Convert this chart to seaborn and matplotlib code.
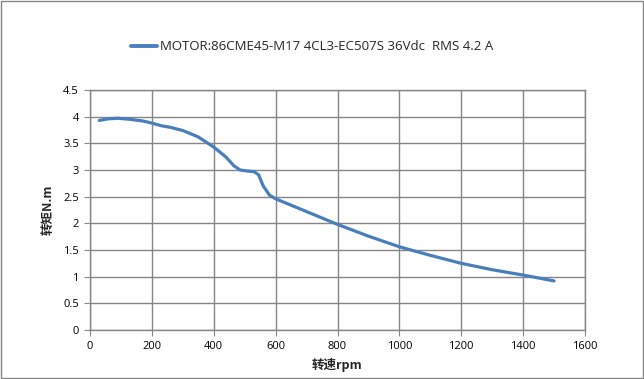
import pandas as pd
import seaborn as sns
import matplotlib.pyplot as plt

# speed (rpm) vs torque (N.m)
speed = [30, 60, 90, 130, 170, 200, 230, 260, 300, 350, 400, 440, 465, 485,
         510, 530, 545, 560, 580, 600, 650, 700, 800, 900, 1000, 1100, 1200,
         1300, 1400, 1500]
torque = [3.93, 3.96, 3.97, 3.95, 3.92, 3.88, 3.83, 3.80, 3.74, 3.62, 3.43,
          3.24, 3.08, 3.00, 2.98, 2.97, 2.91, 2.70, 2.53, 2.46, 2.34, 2.22,
          1.98, 1.76, 1.56, 1.40, 1.25, 1.13, 1.03, 0.92]
series_name = "MOTOR:86CME45-M17 4CL3-EC507S 36Vdc  RMS 4.2 A"
x_ticks = [0, 200, 400, 600, 800, 1000, 1200, 1400, 1600]
y_ticks = [0, 0.5, 1, 1.5, 2, 2.5, 3, 3.5, 4, 4.5]

df = pd.DataFrame({"speed": speed, "torque": torque, "series": series_name})

sns.set_style("white")
plt.rcParams["font.family"] = ["Open Sans", "DejaVu Sans"]

fig = plt.figure(figsize=(6.44, 3.79), dpi=100)
ax = fig.add_axes([90 / 644, 1 - 330 / 379, 495 / 644, 240 / 379])

sns.lineplot(data=df, x="speed", y="torque", hue="series",
             palette=["#4A7EBB"], linewidth=2.3, ax=ax, legend=True)

ax.set_xlim(0, 1600)
ax.set_ylim(0, 4.5)
ax.set_xticks(x_ticks)
ax.set_yticks(y_ticks)
ax.set_xticklabels([str(t) for t in x_ticks])
ax.set_yticklabels([f"{t:g}" for t in y_ticks])
ax.grid(True, color="#868686", linewidth=1.0)
ax.set_axisbelow(True)
for s in ax.spines.values():
    s.set_color("#868686")
    s.set_linewidth(1.0)
ax.tick_params(axis="both", length=4, color="#868686", labelsize=8,
               labelcolor="#000000", direction="out", pad=4)
ax.tick_params(left=True, bottom=True)

cjk = ["Noto Sans CJK SC", "DejaVu Sans"]
ax.set_xlabel("转速rpm", family=cjk, fontsize=9, fontweight="bold", labelpad=4)
ax.set_ylabel("转矩N.m", family=cjk, fontsize=9, fontweight="bold", labelpad=6)

leg = ax.legend(loc="center", bbox_to_anchor=(312 / 644, 1 - 47 / 379),
                bbox_transform=fig.transFigure, frameon=False, fontsize=9.5,
                handlelength=2.0, handletextpad=0.2)
for h in leg.get_lines():
    h.set_linewidth(2.8)

fig.patches.append(plt.Rectangle((0.001, 0.002), 0.997, 0.996,
                                 transform=fig.transFigure, fill=False,
                                 edgecolor="#868686", linewidth=1.0))

fig.savefig("out.png", dpi=100)
